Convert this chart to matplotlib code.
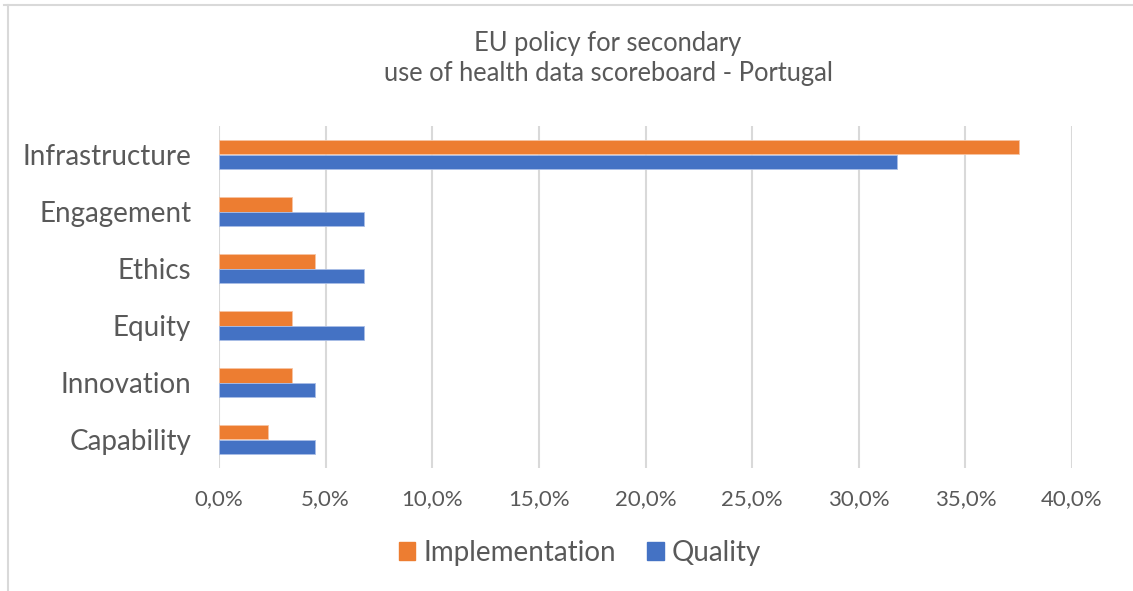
import matplotlib
matplotlib.use("Agg")
import matplotlib.pyplot as plt
from matplotlib.lines import Line2D
from matplotlib.patches import Patch
from matplotlib.ticker import FuncFormatter, MultipleLocator
import numpy as np

plt.rcParams['font.family'] = ['Lato', 'DejaVu Sans']

# Scoreboard data (share of total score, %)
categories = ["Infrastructure", "Engagement", "Ethics", "Equity", "Innovation", "Capability"]
implementation = [37.5, 3.4, 4.5, 3.4, 3.4, 2.3]
quality = [31.8, 6.8, 6.8, 6.8, 4.5, 4.5]
series_names = ["Implementation", "Quality"]
title_text = "EU policy for secondary\nuse of health data scoreboard - Portugal"

ORANGE = "#ED7D31"
BLUE = "#4472C4"
TEXT = "#595959"
GRID = "#D9D9D9"

W, H = 1133, 591
fig = plt.figure(figsize=(W / 100, H / 100), dpi=100)
fig.patch.set_facecolor("white")

def fx(px):
    return px / W

def fy(py):
    return 1 - py / H

ax = fig.add_axes([fx(219), fy(468), fx(1072) - fx(219), fy(126) - fy(468)])

y = np.arange(len(categories))
h = 0.255
ax.barh(y - h / 2, implementation, height=h, color=ORANGE, edgecolor="#F7C4A2",
        linewidth=0.6, zorder=3)
ax.barh(y + h / 2, quality, height=h, color=BLUE, edgecolor="#A9BDE6",
        linewidth=0.6, zorder=3)

ax.set_xlim(0, 40)
ax.set_ylim(len(categories) - 0.5, -0.5)
ax.xaxis.set_major_locator(MultipleLocator(5))
ax.xaxis.set_major_formatter(FuncFormatter(lambda v, p: f"{v:.1f}%".replace(".", ",")))
ax.set_yticks(y)
ax.set_yticklabels(categories)

ax.grid(axis="x", color=GRID, linewidth=1.5, zorder=0)
ax.set_axisbelow(True)
for s in ax.spines.values():
    s.set_visible(False)
ax.tick_params(axis="both", length=0, colors=TEXT)
ax.tick_params(axis="x", labelsize=16, pad=15)
ax.tick_params(axis="y", labelsize=20, pad=20)

# Two-line centred title
fig.text(fx(608), fy(59), title_text, ha="center", va="center", multialignment="center",
         fontsize=18.4, color=TEXT, linespacing=1.25)

# Legend
handles = [Patch(facecolor=ORANGE, edgecolor=ORANGE), Patch(facecolor=BLUE, edgecolor=BLUE)]
fig.legend(handles, series_names, loc="center", bbox_to_anchor=(fx(580), fy(553)), ncol=2,
           frameon=False, fontsize=20, labelcolor=TEXT, handlelength=0.6, handleheight=0.6,
           handletextpad=0.3, columnspacing=1.1, borderpad=0, borderaxespad=0)

# Chart area border
fig.add_artist(Line2D([fx(8), fx(8)], [fy(5), 0], color=GRID, linewidth=1.5))
fig.add_artist(Line2D([fx(4), 1], [fy(5), fy(5)], color=GRID, linewidth=1.5))

fig.savefig("out.png", dpi=100, facecolor="white")
